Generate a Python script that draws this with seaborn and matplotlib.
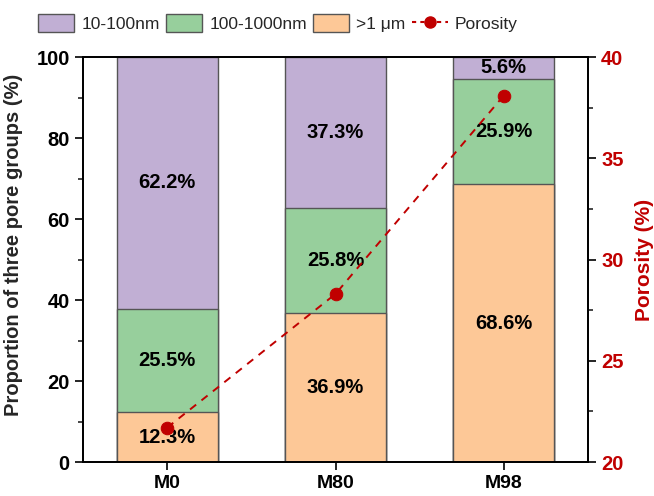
import numpy as np
import pandas as pd
import matplotlib
matplotlib.use("Agg")
import matplotlib.pyplot as plt
import seaborn as sns
from matplotlib.patches import Patch
from matplotlib.lines import Line2D
from matplotlib.ticker import MultipleLocator

samples = ["M0", "M80", "M98"]
pct_large = [12.3, 36.9, 68.6]     # >1 µm
pct_mid = [25.5, 25.8, 25.9]       # 100-1000nm
pct_small = [62.2, 37.3, 5.6]      # 10-100nm
porosity = [21.7, 28.3, 38.1]
group_names = ["10-100nm", "100-1000nm", ">1 μm"]

c_small = "#c1afd4"
c_mid = "#97cf9c"
c_large = "#fdc897"
c_line = "#c00000"
edge = "#555555"

sns.set_theme(style="ticks")
plt.rcParams["font.family"] = ["Liberation Sans", "DejaVu Sans"]

df = pd.DataFrame({"sample": samples, "large": pct_large,
                   "mid": pct_mid, "small": pct_small, "porosity": porosity})
df["top_mid"] = df["large"] + df["mid"]
df["top_small"] = df["top_mid"] + df["small"]

fig = plt.figure(figsize=(6.54, 4.96), dpi=100)
ax = fig.add_axes([0.127, 0.0685, 0.772, 0.8165])

# stacked bars drawn as overlapping cumulative heights, tallest first
for col, colr in [("top_small", c_small), ("top_mid", c_mid), ("large", c_large)]:
    sns.barplot(data=df, x="sample", y=col, color=colr, edgecolor=edge,
                linewidth=1.0, width=0.6, saturation=1, ax=ax)

for i, row in df.iterrows():
    for lo, val in [(0, row["large"]), (row["large"], row["mid"]), (row["top_mid"], row["small"])]:
        ax.text(i, lo + val / 2, f"{val:.1f}%", ha="center", va="center",
                fontsize=14.5, fontweight="bold", color="black")

ax.set_xlim(-0.5, 2.5)
ax.set_ylim(0, 100)
ax.yaxis.set_major_locator(MultipleLocator(20))
ax.yaxis.set_minor_locator(MultipleLocator(10))
ax.set_xlabel("")
ax.set_ylabel("Proportion of three pore groups (%)", fontsize=14.5, fontweight="bold")
ax.yaxis.set_label_coords(-0.118, 0.535)
ax.tick_params(axis="y", which="major", direction="out", length=6, width=1.2,
               labelsize=14.5, colors="black")
ax.tick_params(axis="x", which="major", direction="out", length=6, width=1.2,
               labelsize=14, colors="black")
ax.tick_params(axis="y", which="minor", direction="out", length=3.5, width=1.2)
for lab in ax.get_xticklabels() + ax.get_yticklabels():
    lab.set_fontweight("bold")
for s in ax.spines.values():
    s.set_linewidth(1.3)
    s.set_color("black")

ax2 = ax.twinx()
sns.lineplot(x=np.arange(len(samples)), y=df["porosity"], ax=ax2, color=c_line,
             marker="o", markersize=9, markeredgecolor=c_line, linewidth=1.4,
             dashes=False, linestyle=(0, (4, 3.5)))
ax2.set_ylim(20, 40)
ax2.yaxis.set_major_locator(MultipleLocator(5))
ax2.yaxis.set_minor_locator(MultipleLocator(2.5))
ax2.set_ylabel("Porosity (%)", fontsize=15, fontweight="bold", color=c_line, labelpad=8)
ax2.tick_params(axis="y", which="major", direction="out", length=6, width=1.2,
                labelsize=14.5, labelcolor=c_line, color="black")
ax2.tick_params(axis="y", which="minor", direction="out", length=3.5, width=1.2)
for lab in ax2.get_yticklabels():
    lab.set_fontweight("bold")
for s in ax2.spines.values():
    s.set_linewidth(1.3)
    s.set_color("black")

handles = [Patch(facecolor=c_small, edgecolor=edge, label=group_names[0]),
           Patch(facecolor=c_mid, edgecolor=edge, label=group_names[1]),
           Patch(facecolor=c_large, edgecolor=edge, label=group_names[2]),
           Line2D([0], [0], color=c_line, linestyle=(0, (2, 2)), marker="o",
                  markersize=8, label="Porosity")]
fig.legend(handles=handles, loc="center left", bbox_to_anchor=(0.058, 0.953), ncol=4,
           frameon=False, fontsize=12.5, handlelength=2.1, handleheight=1.25,
           handletextpad=0.4, columnspacing=0.35, borderaxespad=0.0, borderpad=0.0)

fig.savefig("out.png", dpi=100)
